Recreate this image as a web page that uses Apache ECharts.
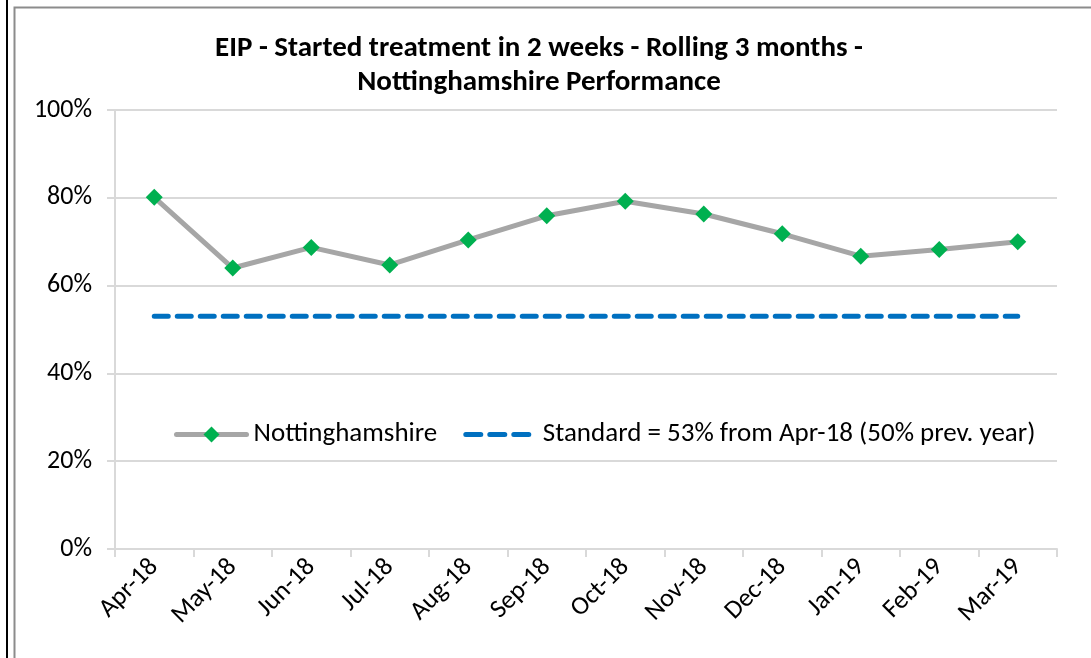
<!DOCTYPE html>
<html>
<head>
<meta charset="utf-8">
<script src="https://cdn.jsdelivr.net/npm/echarts@6/dist/echarts.min.js"></script>
<style>
  html, body { margin: 0; padding: 0; background: #fff; }
  #main { width: 1091px; height: 658px; }
</style>
</head>
<body>
<div id="main"></div>
<script>
var months = ['Apr-18', 'May-18', 'Jun-18', 'Jul-18', 'Aug-18', 'Sep-18', 'Oct-18', 'Nov-18', 'Dec-18', 'Jan-19', 'Feb-19', 'Mar-19'];
var nottsValues = [80.1, 64.0, 68.7, 64.7, 70.4, 75.9, 79.2, 76.3, 71.8, 66.7, 68.2, 70.0];
var standardValues = [53, 53, 53, 53, 53, 53, 53, 53, 53, 53, 53, 53];
var yTicks = [0, 20, 40, 60, 80, 100];

var font = 'Carlito, Lato, "Open Sans", sans-serif';

var chart = echarts.init(document.getElementById('main'));
var option = {
    backgroundColor: '#fff',
    animation: false,
    title: {
        text: 'EIP - Started treatment in 2 weeks - Rolling 3 months -\nNottinghamshire Performance',
        left: 534,
        top: 27,
        textAlign: 'center',
        textStyle: {
            fontFamily: font,
            fontSize: 29,
            fontWeight: 'bold',
            color: '#000',
            lineHeight: 34
        }
    },
    graphic: [
        { type: 'rect', shape: { x: 14.5, y: 7.5, width: 1100, height: 700 },
          style: { fill: 'none', stroke: '#8c8c8c', lineWidth: 2 }, silent: true },
        { type: 'line', shape: { x1: 7, y1: 0, x2: 7, y2: 658 },
          style: { stroke: '#000', lineWidth: 2 }, silent: true }
    ],
    legend: {
        left: 169,
        top: 416,
        itemWidth: 70,
        itemHeight: 20,
        itemGap: 26,
        textStyle: { fontFamily: font, fontSize: 27, color: '#000', padding: [0, 0, 0, 2] },
        data: [
            { name: 'Nottinghamshire',
              lineStyle: { color: '#a6a6a6', width: 5, cap: 'round' } },
            { name: 'Standard = 53% from Apr-18 (50% prev. year)',
              itemStyle: { opacity: 0 },
              lineStyle: { color: '#0070c0', width: 5, type: [15, 9], cap: 'round' } }
        ]
    },
    grid: { left: 115, right: 34, top: 110, bottom: 109 },
    xAxis: {
        type: 'category',
        data: months,
        boundaryGap: true,
        axisLine: { lineStyle: { color: '#d9d9d9', width: 2 } },
        axisTick: { show: true, length: 8, lineStyle: { color: '#d9d9d9', width: 2 } },
        axisLabel: {
            rotate: 45,
            interval: 0,
            margin: 14,
            fontFamily: font,
            fontSize: 26,
            color: '#000'
        }
    },
    yAxis: {
        type: 'value',
        min: 0,
        max: 100,
        interval: 20,
        axisLine: { show: true, lineStyle: { color: '#d9d9d9', width: 2 } },
        axisTick: { show: true, length: 8, lineStyle: { color: '#d9d9d9', width: 2 } },
        splitLine: { lineStyle: { color: '#d9d9d9', width: 2 } },
        axisLabel: {
            margin: 23,
            fontFamily: font,
            fontSize: 26,
            color: '#000',
            formatter: function (v) { return yTicks.indexOf(v) >= 0 ? v + '%' : ''; }
        }
    },
    series: [
        {
            name: 'Nottinghamshire',
            type: 'line',
            data: nottsValues,
            symbol: 'diamond',
            symbolSize: 17,
            lineStyle: { color: '#a6a6a6', width: 5 },
            itemStyle: { color: '#00b050' },
            z: 3
        },
        {
            name: 'Standard = 53% from Apr-18 (50% prev. year)',
            type: 'line',
            data: standardValues,
            symbol: 'none',
            lineStyle: { color: '#0070c0', width: 5, type: [14, 9], cap: 'round' },
            itemStyle: { color: '#0070c0' },
            z: 2
        }
    ]
};
chart.setOption(option);
</script>
</body>
</html>
